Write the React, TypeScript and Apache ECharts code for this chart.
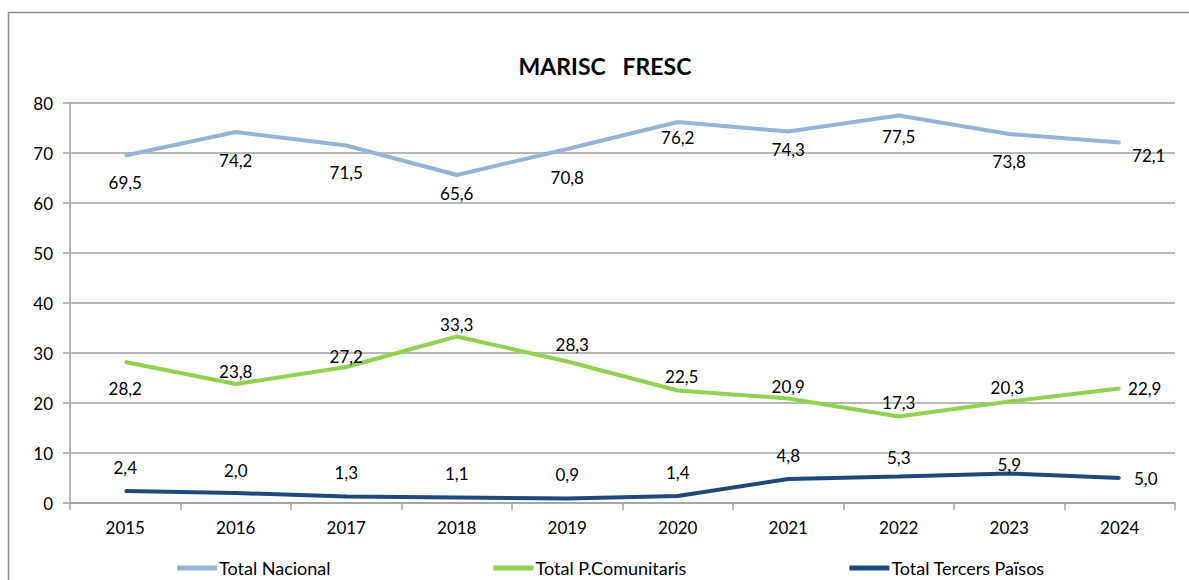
import React, { useEffect, useRef } from "react";
import * as echarts from "echarts";

const years = ["2015", "2016", "2017", "2018", "2019", "2020", "2021", "2022", "2023", "2024"];
const totalNacional = [69.5, 74.2, 71.5, 65.6, 70.8, 76.2, 74.3, 77.5, 73.8, 72.1];
const totalComunitaris = [28.2, 23.8, 27.2, 33.3, 28.3, 22.5, 20.9, 17.3, 20.3, 22.9];
const totalTercers = [2.4, 2.0, 1.3, 1.1, 0.9, 1.4, 4.8, 5.3, 5.9, 5.0];
const seriesNames = ["Total Nacional", "Total P.Comunitaris", "Total Tercers Països"];
const titleText = "MARISC   FRESC";

// label placement nudges (layout only)
const nacionalNudge = [[0, 27], [0, 28], [0, 27], [0, 18], [0, 28], [0, 15], [0, 18], [0, 21], [0, 27], [29, 13]];
const comunitarisNudge = [[0, 26], [0, -13], [0, -11], [0, -12], [5, -17], [4, -14], [0, -12], [0, -14], [-2, -14], [25, 0]];
const tercersNudge = [[0, -24], [0, -23], [0, -24], [0, -24], [0, -24], [0, -24], [0, -24], [0, -19], [0, -9], [26, 0]];

const FONT = "Lato, 'Open Sans', sans-serif";
const FS = 17;
const fmt = (v: number) => v.toFixed(1).replace(".", ",");

function build(values: number[], nudges: number[][]) {
  return values.map((v, i) => ({
    value: v,
    label: { offset: nudges[i] },
  }));
}

function makeSeries(name: string, values: number[], nudges: number[][], color: string) {
  return {
    type: "line",
    name,
    data: build(values, nudges),
    symbol: "circle",
    symbolSize: 2,
    showSymbol: true,
    itemStyle: { color },
    lineStyle: { color, width: 4 },
    emphasis: { disabled: true },
    label: {
      show: true,
      position: "inside",
      formatter: (p: any) => fmt(p.value),
      color: "#000",
      fontFamily: FONT,
      fontSize: FS,
    },
  };
}

export default function App() {
  const ref = useRef<HTMLDivElement>(null);
  useEffect(() => {
    if (!ref.current) return;
    const chart = echarts.init(ref.current, undefined, { renderer: "svg" });
    chart.setOption({
      animation: false,
      backgroundColor: "#fff",
      textStyle: { fontFamily: FONT },
      title: {
        text: titleText,
        left: 605,
        textAlign: "center",
        top: 54,
        padding: 0,
        textStyle: { fontFamily: FONT, fontSize: 23, fontWeight: "bold", color: "#000" },
      },
      graphic: [
        {
          type: "rect",
          shape: { x: 8.5, y: 12.5, width: 1400, height: 800 },
          style: { fill: "none", stroke: "#8a8a8a", lineWidth: 1.5 },
          silent: true,
        },
      ],
      grid: { left: 70, top: 103, right: 14, bottom: 77, containLabel: false },
      legend: {
        left: 177,
        top: 559,
        padding: 0,
        icon: "rect",
        itemWidth: 40,
        itemHeight: 5,
        itemGap: 163,
        textStyle: { fontFamily: FONT, fontSize: 18, color: "#000", padding: [0, 0, 0, -3] },
        data: seriesNames,
      },
      xAxis: {
        type: "category",
        data: years,
        boundaryGap: true,
        axisLine: { show: true, lineStyle: { color: "#a0a0a0", width: 1.5 } },
        axisTick: { show: true, length: 7, lineStyle: { color: "#a0a0a0", width: 1.5 } },
        axisLabel: { color: "#000", fontSize: FS, fontFamily: FONT, margin: 16 },
        splitLine: { show: false },
      },
      yAxis: {
        type: "value",
        min: 0,
        max: 80,
        interval: 10,
        axisLine: { show: true, lineStyle: { color: "#a0a0a0", width: 1.5 } },
        axisTick: { show: true, length: 7, lineStyle: { color: "#a0a0a0", width: 1.5 } },
        axisLabel: { color: "#000", fontSize: FS, fontFamily: FONT, margin: 17 },
        splitLine: { show: true, lineStyle: { color: "#a0a0a0", width: 1.5 } },
      },
      series: [
        makeSeries(seriesNames[0], totalNacional, nacionalNudge, "#95B3D7"),
        makeSeries(seriesNames[1], totalComunitaris, comunitarisNudge, "#92D050"),
        makeSeries(seriesNames[2], totalTercers, tercersNudge, "#1F497D"),
      ],
    });
    return () => chart.dispose();
  }, []);
  return (
    <div
      ref={ref}
      style={{ position: "fixed", left: 0, top: 0, width: 1189, height: 580, background: "#fff" }}
    />
  );
}
